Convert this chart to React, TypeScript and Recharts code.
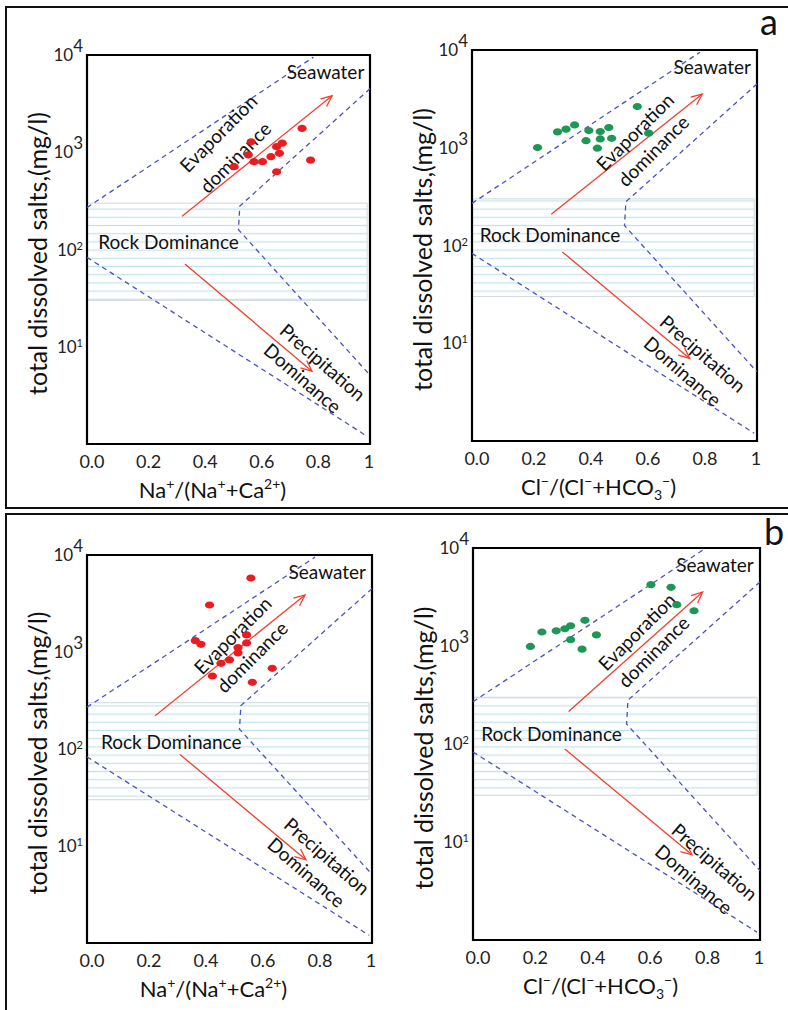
import React from 'react';
import { ScatterChart, Scatter, XAxis, YAxis, ReferenceArea, ReferenceLine, ReferenceDot } from 'recharts';

const FONT = 'Lato, "Open Sans", sans-serif';
const RED = '#ea1c22';
const GREEN = '#1e9656';
const DASH = '#4a52c2';
const ARROW = '#f0402e';

// sample ratios and TDS (mg/l), campaign a
const naRatioA = [0.52, 0.57, 0.58, 0.59, 0.62, 0.65, 0.67, 0.69, 0.68, 0.67, 0.79, 0.76];
const naTdsA = [710, 940, 1280, 800, 800, 900, 1140, 1240, 975, 630, 830, 1760];
const clRatioA = [0.23, 0.3, 0.33, 0.36, 0.41, 0.4, 0.45, 0.48, 0.45, 0.49, 0.44, 0.58, 0.62];
const clTdsA = [1005, 1455, 1550, 1710, 1500, 1180, 1465, 1610, 1230, 1250, 990, 2640, 1410];

// campaign b
const naRatioB = [0.575, 0.43, 0.38, 0.4, 0.56, 0.56, 0.53, 0.53, 0.5, 0.47, 0.44, 0.58, 0.65];
const naTdsB = [5790, 3050, 1310, 1200, 1500, 1240, 1110, 980, 830, 765, 566, 487, 679];
const clRatioB = [0.2, 0.24, 0.29, 0.32, 0.34, 0.39, 0.34, 0.43, 0.38, 0.62, 0.69, 0.71, 0.77];
const clTdsB = [990, 1390, 1430, 1500, 1610, 1830, 1160, 1300, 930, 4230, 3970, 2640, 2290];

// Gibbs envelope
const upperLeft = [{ x: 0, y: 270 }, { x: 0.8, y: 9500 }];
const upperRight = [{ x: 1, y: 4500 }, { x: 0.54, y: 280 }, { x: 0.535, y: 160 }, { x: 1, y: 5.1 }];
const lowerLeft = [{ x: 0, y: 83 }, { x: 0.99, y: 1.2 }];
const rockBand = [30, 300];

const xTicks = [0, 0.2, 0.4, 0.6, 0.8, 1];
const yTicks = [10, 100, 1000, 10000];

const zip = (xs: number[], ys: number[]) => xs.map((x, i) => ({ x, y: ys[i] }));

type Pt = { x: number; y: number };
type PlotCfg = {
  left: number; top: number;
  margin: { top: number; right: number; bottom: number; left: number };
  points: Pt[]; color: string; kind: 'na' | 'cl';
  evap: [Pt, Pt]; precip: [Pt, Pt];
  notes: { evap: Pt; evap2: Pt; prec: Pt; prec2: Pt; rock: Pt };
};

const plots: PlotCfg[] = [
  {
    left: 0, top: 0, margin: { top: 55, right: 24, bottom: 31, left: 37 },
    points: zip(naRatioA, naTdsA), color: RED, kind: 'na',
    evap: [{ x: 0.336, y: 220 }, { x: 0.866, y: 3800 }],
    precip: [{ x: 0.346, y: 71 }, { x: 0.795, y: 5.6 }],
    notes: { evap: { x: 0.463, y: 1578 }, evap2: { x: 0.523, y: 894 }, prec: { x: 0.834, y: 7.0 }, prec2: { x: 0.763, y: 4.8 }, rock: { x: 0.04, y: 122 } },
  },
  {
    left: 394, top: 0, margin: { top: 50, right: 31, bottom: 34, left: 28 },
    points: zip(clRatioA, clTdsA), color: GREEN, kind: 'cl',
    evap: [{ x: 0.278, y: 209 }, { x: 0.808, y: 3540 }],
    precip: [{ x: 0.317, y: 86 }, { x: 0.764, y: 7.0 }],
    notes: { evap: { x: 0.571, y: 1465 }, evap2: { x: 0.635, y: 936 }, prec: { x: 0.811, y: 7.9 }, prec2: { x: 0.74, y: 5.2 }, rock: { x: 0.027, y: 130 } },
  },
  {
    left: 0, top: 505, margin: { top: 50, right: 22, bottom: 37, left: 37 },
    points: zip(naRatioB, naTdsB), color: RED, kind: 'na',
    evap: [{ x: 0.239, y: 220 }, { x: 0.765, y: 3870 }],
    precip: [{ x: 0.326, y: 88 }, { x: 0.768, y: 7.2 }],
    notes: { evap: { x: 0.51, y: 1497 }, evap2: { x: 0.578, y: 895 }, prec: { x: 0.843, y: 7.9 }, prec2: { x: 0.771, y: 5.4 }, rock: { x: 0.049, y: 119 } },
  },
  {
    left: 394, top: 505, margin: { top: 43, right: 28, bottom: 40, left: 29 },
    points: zip(clRatioB, clTdsB), color: GREEN, kind: 'cl',
    evap: [{ x: 0.333, y: 215 }, { x: 0.8, y: 3560 }],
    precip: [{ x: 0.32, y: 89 }, { x: 0.763, y: 7.4 }],
    notes: { evap: { x: 0.57, y: 1410 }, evap2: { x: 0.628, y: 881 }, prec: { x: 0.843, y: 6.3 }, prec2: { x: 0.771, y: 4.2 }, rock: { x: 0.029, y: 129 } },
  },
];

const seawater = { x: 0.843, y: 6760 };

const XTick = ({ x, y, payload }: any) => (
  <text x={x + (payload.value === 1 ? -1 : 5)} y={y + 24} textAnchor="middle" fontFamily={FONT} fontSize={18} fill="#222">
    {payload.value === 1 ? '1' : payload.value.toFixed(1)}
  </text>
);

const YTick = ({ x, y, payload }: any) => {
  const e = Math.round(Math.log10(payload.value));
  const big = e >= 3;
  return (
    <text x={x} y={y} textAnchor="end" fontFamily={FONT} fill="#222">
      <tspan fontSize={17} dy={6}>10</tspan>
      <tspan fontSize={big ? 17 : 11} dy={big ? -9 : -6}>{e}</tspan>
    </text>
  );
};

const NaTitle = () => (
  <>
    <tspan>Na</tspan>
    <tspan dy={-9} fontSize={14}>+</tspan>
    <tspan dy={9}>/(Na</tspan>
    <tspan dy={-9} fontSize={14}>+</tspan>
    <tspan dy={9}>+Ca</tspan>
    <tspan dy={-9} fontSize={14}>2+</tspan>
    <tspan dy={9}>)</tspan>
  </>
);

const ClTitle = () => (
  <>
    <tspan>Cl</tspan>
    <tspan dy={-9} fontSize={14}>−</tspan>
    <tspan dy={9}>/(Cl</tspan>
    <tspan dy={-9} fontSize={14}>−</tspan>
    <tspan dy={9}>+HCO</tspan>
    <tspan dy={5} fontSize={14}>3</tspan>
    <tspan dy={-14} fontSize={14}>−</tspan>
    <tspan dy={9}>)</tspan>
  </>
);

const Arrow = (p: any) => {
  const { x1, y1, x2, y2 } = p;
  const a = Math.atan2(y2 - y1, x2 - x1);
  const len = 12;
  const spread = 0.42;
  const h1 = [x2 - len * Math.cos(a - spread), y2 - len * Math.sin(a - spread)];
  const h2 = [x2 - len * Math.cos(a + spread), y2 - len * Math.sin(a + spread)];
  return (
    <g stroke={ARROW} strokeWidth={1.3} fill="none">
      <line x1={x1} y1={y1} x2={x2} y2={y2} />
      <polyline points={`${h1[0]},${h1[1]} ${x2},${y2} ${h2[0]},${h2[1]}`} />
    </g>
  );
};

const note = (text: string, angle: number, anchor: 'middle' | 'start' = 'middle') => (p: any) => (
  <text
    x={p.cx}
    y={p.cy}
    transform={angle ? `rotate(${angle} ${p.cx} ${p.cy})` : undefined}
    textAnchor={anchor}
    dominantBaseline="central"
    fontFamily={FONT}
    fontSize={19}
    fill="#111"
  >
    {text}
  </text>
);

const noDot = () => <g />;
const dashLine = { stroke: DASH, strokeWidth: 1.3, strokeDasharray: '5 4', fill: 'none' };

const GibbsPlot = ({ cfg }: { cfg: PlotCfg }) => {
  const { notes } = cfg;
  return (
    <div style={{ position: 'absolute', left: cfg.left, top: cfg.top }}>
      <ScatterChart width={394} height={505} margin={cfg.margin}>
        <XAxis
          type="number"
          dataKey="x"
          domain={[0, 1]}
          ticks={xTicks}
          tick={<XTick />}
          tickSize={0}
          tickMargin={0}
          axisLine={false}
          tickLine={false}
          height={30}
          label={{
            content: ({ viewBox }: any) => (
              <text
                x={viewBox.x + viewBox.width / 2 - 16}
                y={viewBox.y + 54}
                textAnchor="middle"
                fontFamily={FONT}
                fontSize={22}
                fill="#111"
              >
                {cfg.kind === 'na' ? <NaTitle /> : <ClTitle />}
              </text>
            ),
          }}
        />
        <YAxis
          type="number"
          dataKey="y"
          scale="log"
          domain={[1, 10000]}
          allowDataOverflow
          ticks={yTicks}
          tick={<YTick />}
          tickSize={0}
          tickMargin={4}
          axisLine={false}
          tickLine={false}
          width={50}
          label={{
            content: ({ viewBox }: any) => {
              const cx = viewBox.x + viewBox.width - 50;
              const cy = viewBox.y + viewBox.height / 2 + 4;
              return (
                <text
                  x={cx}
                  y={cy}
                  transform={`rotate(-90 ${cx} ${cy})`}
                  textAnchor="middle"
                  dominantBaseline="central"
                  fontFamily={FONT}
                  fontSize={25}
                  fill="#111"
                >
                  total dissolved salts,(mg/l)
                </text>
              );
            },
          }}
        />
        <ReferenceArea x1={0} x2={0.99} y1={rockBand[0]} y2={rockBand[1]} fill="url(#rock-hatch)" fillOpacity={1} stroke="#cfd8dc" strokeWidth={1} />
        <Scatter data={upperLeft} line={dashLine} shape={noDot} isAnimationActive={false} />
        <Scatter data={upperRight} line={dashLine} shape={noDot} isAnimationActive={false} />
        <Scatter data={lowerLeft} line={dashLine} shape={noDot} isAnimationActive={false} />
        <ReferenceLine segment={cfg.evap} shape={Arrow} />
        <ReferenceLine segment={cfg.precip} shape={Arrow} />
        <ReferenceDot x={seawater.x} y={seawater.y} r={1} shape={note('Seawater', 0)} />
        <ReferenceDot x={notes.rock.x} y={notes.rock.y} r={1} shape={note('Rock Dominance', 0, 'start')} />
        <ReferenceDot x={notes.evap.x} y={notes.evap.y} r={1} shape={note('Evaporation', -45)} />
        <ReferenceDot x={notes.evap2.x} y={notes.evap2.y} r={1} shape={note('dominance', -45)} />
        <ReferenceDot x={notes.prec.x} y={notes.prec.y} r={1} shape={note('Precipitation', 41)} />
        <ReferenceDot x={notes.prec2.x} y={notes.prec2.y} r={1} shape={note('Dominance', 41)} />
        <Scatter
          data={cfg.points}
          isAnimationActive={false}
          shape={(p: any) => <ellipse cx={p.cx} cy={p.cy} rx={4.6} ry={3.6} fill={cfg.color} />}
        />
        <ReferenceArea x1={0} x2={1} y1={1} y2={10000} fill="none" stroke="#000" strokeWidth={2.2} />
      </ScatterChart>
    </div>
  );
};

const panelStyle: React.CSSProperties = {
  position: 'absolute',
  left: 5,
  width: 800,
  boxSizing: 'border-box',
  border: '2.5px solid #111',
};

export default function App() {
  return (
    <div style={{ position: 'absolute', left: 0, top: 0, width: 788, height: 1010, overflow: 'hidden', background: '#fff' }}>
      <svg width={0} height={0} style={{ position: 'absolute' }}>
        <defs>
          <pattern id="rock-hatch" patternUnits="userSpaceOnUse" width={12} height={8.2}>
            <rect width={12} height={8.2} fill="#fff" />
            <line x1={0} y1={4.1} x2={12} y2={4.1} stroke="#c4e2ee" strokeWidth={1.2} />
          </pattern>
        </defs>
      </svg>
      <div style={{ ...panelStyle, top: 6, height: 503 }} />
      <div style={{ ...panelStyle, top: 512.5, height: 520 }} />
      {plots.map((cfg, i) => (
        <GibbsPlot key={i} cfg={cfg} />
      ))}
      <svg width={788} height={1010} style={{ position: 'absolute', left: 0, top: 0, pointerEvents: 'none' }}>
        <text x={769} y={35} textAnchor="middle" fontFamily={FONT} fontSize={36} fill="#111">a</text>
        <text x={774} y={545} textAnchor="middle" fontFamily={FONT} fontSize={36} fill="#111">b</text>
      </svg>
    </div>
  );
}
